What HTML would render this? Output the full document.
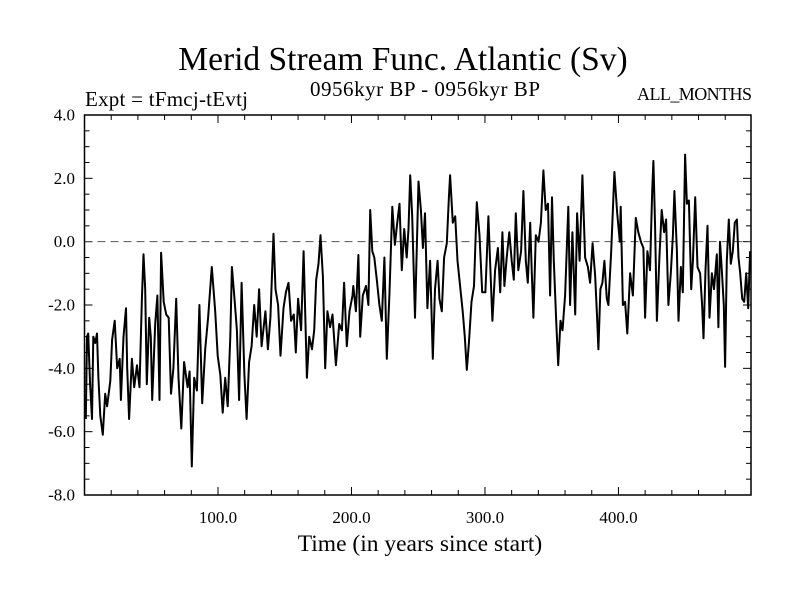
<!DOCTYPE html>
<html><head><meta charset="utf-8"><style>
html,body{margin:0;padding:0;background:#fff}
svg{display:block;font-family:"Liberation Serif",serif}
</style></head><body>
<svg id="chart" width="800" height="600" viewBox="0 0 800 600">
<text x="403" y="70" font-size="33.5" text-anchor="middle">Merid Stream Func. Atlantic (Sv)</text>
<text x="85" y="106" font-size="21" textLength="163">Expt = tFmcj-tEvtj</text>
<text x="425" y="96" font-size="21" text-anchor="middle" textLength="230">0956kyr BP - 0956kyr BP</text>
<text x="752" y="100" font-size="18" text-anchor="end" textLength="115">ALL_MONTHS</text>
<text x="420" y="551" font-size="23.5" text-anchor="middle">Time (in years since start)</text>
<g id="axes"></g>
<g id="series"></g>
<rect x="84.5" y="115" width="666.5" height="380" fill="none" stroke="#000" stroke-width="1.5"/>
</svg>
<script>
const years = [1,1.9,2.8,4.2,5.6,6.6,8,9.4,10.4,11.8,13.7,15.5,16.9,19.3,20.7,22.6,24.5,26.4,27.3,29.2,31.1,32,33.4,35.5,37.2,39.3,41.2,43,44.2,45.5,46.7,48.5,49.7,50.7,53,54.6,56.2,57.4,59.3,61.2,63.1,64.8,66.6,68.7,70.4,72.5,74.6,77.2,78.7,80.4,82.2,84.2,86.1,88.2,90.4,92.6,95.4,97.9,99.8,101.7,103.5,105.4,107.3,109.2,110.4,112.4,114.2,115.8,117.7,119.8,121.4,123.3,125.2,127.1,129,130.8,132.7,135.5,137.4,139.3,141.6,143.1,145,146.8,149.1,150.9,152.8,154.8,156.8,158.3,160,162.3,164.1,166.6,168.3,170.4,172.1,173.6,175.3,176.8,178.6,180.3,182,184,185.8,188.3,190.8,192.8,194.5,196.5,198.5,200.8,201.4,203.3,205.2,206.5,208.5,210.9,212.7,214,215.6,217.1,219,220.9,222.7,224.7,226.5,228.5,230.6,232.5,234,236,237.7,239.5,241.4,242.7,244,245.5,247.6,250.2,252,253.5,255.1,256.9,258.9,260.9,262.6,264.5,265.9,267.7,269.4,271.4,273,273.9,275.9,277.7,279.4,281.4,283.3,284.9,286.4,288,289.9,291.8,293.9,295.9,297.9,300.3,302.6,304,305.6,307.6,309.7,311.4,313.1,314.6,316.3,318.2,320,321.6,323.1,325,327.1,328.8,330.6,332.1,333.9,335.1,336.3,338.1,340.1,341.9,343.8,345.5,347.2,348.8,350.2,351.6,353.4,354.9,356.6,358.1,360,362.4,363.8,365.5,367.6,369,370.9,373,375,377.1,378.8,380.6,382.6,384,385,386.5,388,389.5,391.3,392.5,394.6,397,399.1,401,401.7,403.3,405,406.6,408.7,410.8,413,414.9,416.8,418.7,420,421.7,423.6,425.3,426.2,427.4,428.8,430.7,432.4,434.2,435.7,437.4,439.2,440.8,441.9,443.8,445,446.8,448.2,449.9,451.3,452.8,454.5,455.8,457.5,459.2,461.2,462.7,463.7,465.2,466.7,468.2,470,471.6,473.7,474.9,476.1,477.6,478.9,479.9,481.2,482.7,484.2,485.7,487.2,488.7,489.9,491.2,492.7,494.2,495.7,497.2,498.6];
const values = [-5.6,-3.0,-2.9,-4.5,-5.6,-3.0,-3.2,-2.9,-4.3,-5.5,-6.1,-4.8,-5.2,-4.4,-3.1,-2.5,-4.0,-3.7,-5.0,-3.0,-2.1,-4.0,-5.6,-3.7,-4.6,-3.9,-4.6,-1.8,-0.4,-1.5,-4.5,-2.4,-3.0,-5.0,-2.6,-1.7,-5.0,-0.35,-1.9,-2.3,-2.4,-4.8,-4.0,-1.8,-4.3,-5.9,-3.8,-4.6,-4.1,-7.1,-4.3,-4.7,-2.0,-5.1,-3.4,-2.4,-0.8,-2.2,-3.6,-4.2,-5.4,-4.3,-5.2,-3.0,-0.8,-1.8,-2.8,-5.0,-1.3,-4.2,-5.6,-3.8,-3.3,-2.0,-3.0,-1.5,-3.3,-2.2,-3.4,-2.4,0.25,-1.5,-2.0,-3.6,-2.1,-1.6,-1.3,-2.5,-2.3,-3.5,-1.8,-2.8,-0.3,-4.3,-3.0,-3.4,-2.8,-1.2,-0.7,0.2,-1.1,-4.0,-2.2,-2.7,-2.3,-3.9,-2.6,-2.8,-1.3,-3.3,-2.2,-1.7,-1.4,-2.2,-0.42,-3.0,-1.7,-1.4,-2.0,1.0,-0.3,-0.5,-1.2,-2.0,-2.5,-0.5,-3.7,-1.6,1.1,-0.1,0.5,1.2,-0.9,0.4,-0.5,0.4,2.1,0.8,-2.4,1.9,1.0,-0.2,0.9,-2.1,-0.6,-3.7,-1.5,-0.6,-1.8,-2.2,-0.5,-0.05,1.4,2.1,0.6,0.8,-0.6,-1.4,-2.2,-3.0,-4.05,-3.2,-1.9,-1.4,1.25,0.2,-1.6,-1.6,0.8,-0.8,-2.5,-0.9,-0.2,-1.6,0.3,-1.4,-0.5,0.3,-0.6,-1.2,0.9,-0.9,-0.3,1.6,-0.6,-1.3,0.6,-1.0,-2.4,0.2,0.0,0.6,2.25,1.0,1.2,-1.7,1.4,-0.6,-2.5,-3.9,-2.5,-2.8,-1.7,1.1,-2.0,0.3,-2.3,0.9,-0.6,2.1,-0.5,-0.8,-1.3,-0.05,-1.1,-2.4,-3.4,-1.5,-1.3,-0.6,-1.8,-2.0,-0.3,2.2,0.9,0.0,1.1,-2.0,-1.9,-2.9,-1.0,-1.7,0.75,0.3,0.0,-0.2,-2.4,-0.3,-0.9,1.6,2.55,0.6,-2.5,-0.5,1.0,0.3,0.7,-2.0,-1.0,0.2,1.6,-0.3,-2.5,-0.8,-1.6,2.75,1.2,1.3,-1.5,-0.6,1.4,-0.8,-1.0,-2.0,-3.05,-0.9,0.5,-2.4,-1.0,-1.5,-0.4,-2.7,0.0,-1.0,-2.0,-3.95,-0.6,0.7,-0.7,-0.3,0.6,0.7,-0.5,-1.0,-1.8,-1.9,-1.0,-2.1,-0.3];
const yTickValues = [4,2,0,-2,-4,-6,-8];
const yTickLabels = ["4.0","2.0","0.0","-2.0","-4.0","-6.0","-8.0"];
const xTickValues = [100,200,300,400];
const xTickLabels = ["100.0","200.0","300.0","400.0"];

const L=84.5,R=751,T=115,B=495,XMIN=0,XMAX=499.3,YMIN=-8,YMAX=4;
const NS='http://www.w3.org/2000/svg';
function xs(v){return L+(v-XMIN)/(XMAX-XMIN)*(R-L);}
function ys(v){return B-(v-YMIN)/(YMAX-YMIN)*(B-T);}
function mk(tag,attrs,parent){const e=document.createElementNS(NS,tag);for(const k in attrs)e.setAttribute(k,attrs[k]);parent.appendChild(e);return e;}
const axes=document.getElementById('axes');
const series=document.getElementById('series');

for(let v=YMIN;v<=YMAX+1e-9;v+=0.5){
  const major=Math.abs(v/2-Math.round(v/2))<1e-9;
  const len=major?8:5;
  const t1=mk('line',{x1:L,x2:L+len,y1:ys(v),y2:ys(v),stroke:'#000','stroke-width':1},axes);
  
  
  const t2=mk('line',{x1:R,x2:R-len,y1:ys(v),y2:ys(v),stroke:'#000','stroke-width':1},axes);
  
  
}
for(let v=20;v<XMAX;v+=20){
  const major=v%100===0;
  const len=major?8:5;
  const t1=mk('line',{x1:xs(v),x2:xs(v),y1:B,y2:B-len,stroke:'#000','stroke-width':1},axes);
  
  
  const t2=mk('line',{x1:xs(v),x2:xs(v),y1:T,y2:T+len,stroke:'#000','stroke-width':1},axes);
  
  
}
yTickValues.forEach((v,i)=>{
  const t=mk('text',{x:75,y:ys(v)+5.5,'font-size':17,'text-anchor':'end'},axes);
  t.textContent=yTickLabels[i];
  
  
});
xTickValues.forEach((v,i)=>{
  const t=mk('text',{x:xs(v),y:523,'font-size':17,'text-anchor':'middle'},axes);
  t.textContent=xTickLabels[i];
  
  
});
const zl=mk('line',{x1:L,x2:R,y1:ys(0),y2:ys(0),stroke:'#555','stroke-width':1,'stroke-dasharray':'8,5'},axes);



let d='';
years.forEach((yr,i)=>{d+=(i?'L':'M')+xs(yr).toFixed(1)+','+ys(values[i]).toFixed(1);});
const p=mk('path',{d:d,fill:'none',stroke:'#000','stroke-width':2,'stroke-linejoin':'round'},series);


</script>
</body></html>
